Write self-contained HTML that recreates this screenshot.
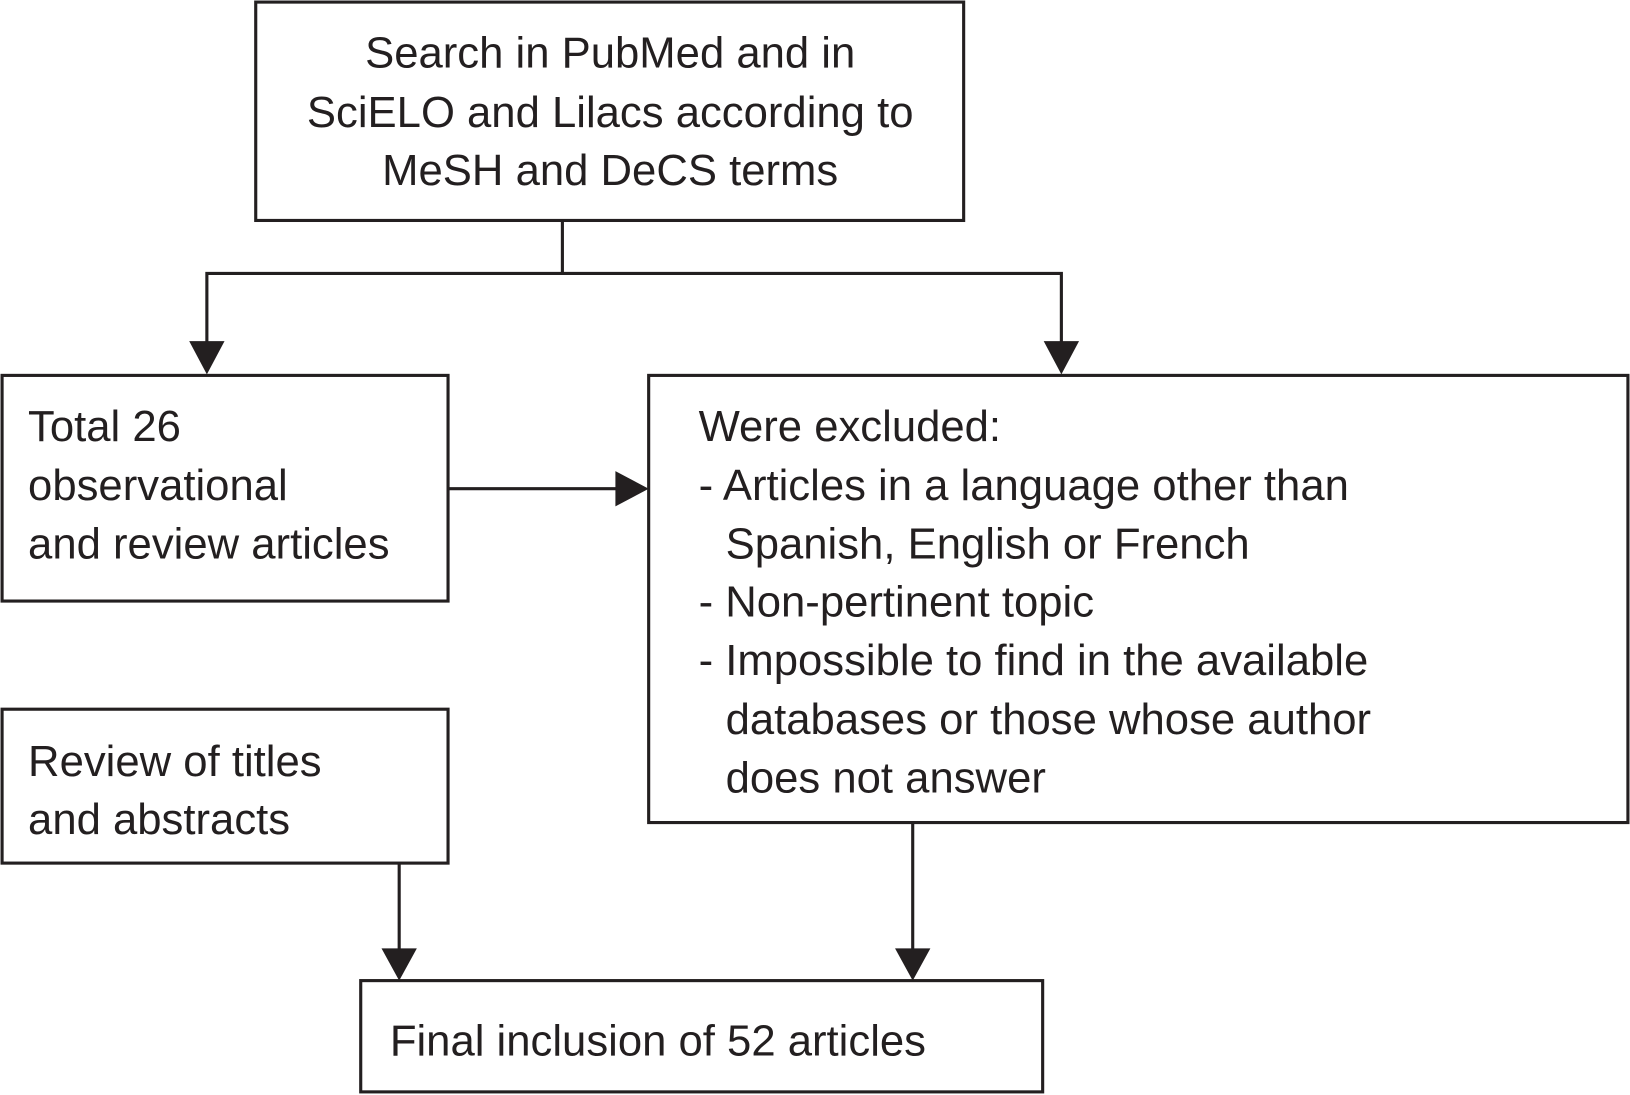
<!DOCTYPE html>
<html><head><meta charset="utf-8"><style>
html,body{margin:0;padding:0;background:#fff;}
svg{display:block;}
text{font-family:"Liberation Sans",Arial,sans-serif;font-size:42px;fill:#231f20;}
</style></head><body>
<svg width="1630" height="1095" viewBox="0 0 1568 1053" preserveAspectRatio="none" xmlns="http://www.w3.org/2000/svg">
<g fill="none" stroke="#231f20" stroke-width="3">
<rect x="246" y="2" width="681" height="210"/>
<rect x="2" y="361" width="429" height="217"/>
<rect x="624" y="361" width="942" height="430"/>
<rect x="2" y="682" width="429" height="148"/>
<rect x="347" y="943" width="656" height="107"/>
<polyline points="541,212 541,263"/>
<polyline points="199,330 199,263 1021,263 1021,330"/>
<line x1="431" y1="470" x2="594" y2="470"/>
<line x1="384" y1="830" x2="384" y2="914"/>
<line x1="878" y1="791" x2="878" y2="914"/>
</g>
<g fill="#231f20">
<polygon points="182,328 216,328 199,360"/>
<polygon points="1004,328 1038,328 1021,360"/>
<polygon points="592,453 592,487 624,470"/>
<polygon points="367,912 401,912 384,943"/>
<polygon points="861,912 895,912 878,943"/>
</g>
<g text-anchor="middle">
<text x="587" y="65">Search in PubMed and in</text>
<text x="587" y="122">SciELO and Lilacs according to</text>
<text x="587" y="178">MeSH and DeCS terms</text>
</g>
<text x="27" y="424">Total 26</text>
<text x="27" y="481">observational</text>
<text x="27" y="537">and review articles</text>
<text x="672" y="424">Were excluded:</text>
<text x="672" y="481">- Articles in a language other than</text>
<text x="698" y="537">Spanish, English or French</text>
<text x="672" y="593">- Non-pertinent topic</text>
<text x="672" y="649">- Impossible to find in the available</text>
<text x="698" y="706">databases or those whose author</text>
<text x="698" y="762">does not answer</text>
<text x="27" y="746">Review of titles</text>
<text x="27" y="802">and abstracts</text>
<text x="375" y="1015">Final inclusion of 52 articles</text>
</svg>
</body></html>
